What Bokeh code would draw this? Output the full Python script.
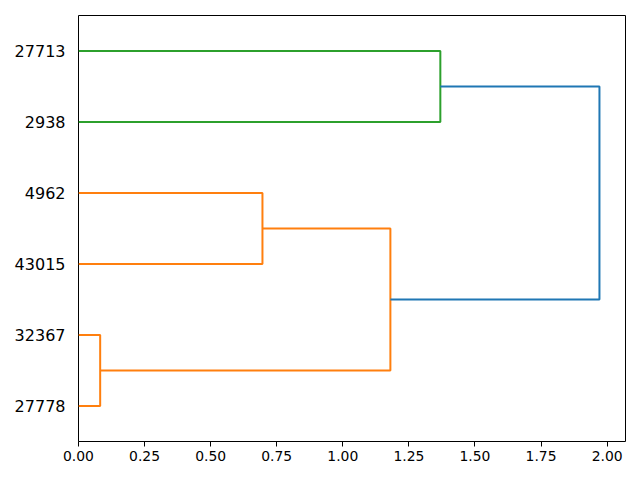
from bokeh.plotting import figure
from bokeh.models import FixedTicker, Range1d
from bokeh.embed import file_html
from bokeh.resources import INLINE

# leaf labels (bottom to top), positioned at 5, 15, 25, ...
leaf_labels = ["27778", "32367", "43015", "4962", "2938", "27713"]
leaf_pos = [5, 15, 25, 35, 45, 55]

# dendrogram link coordinates (scipy style): icoord = leaf axis, dcoord = distance
icoord = [
    [5, 5, 15, 15],
    [25, 25, 35, 35],
    [10, 10, 30, 30],
    [45, 45, 55, 55],
    [20, 20, 50, 50],
]
dcoord = [
    [0.0, 0.082, 0.082, 0.0],
    [0.0, 0.696, 0.696, 0.0],
    [0.082, 1.18, 1.18, 0.696],
    [0.0, 1.369, 1.369, 0.0],
    [1.18, 1.971, 1.971, 1.369],
]
link_colors = ["#ff7f0e", "#ff7f0e", "#ff7f0e", "#2ca02c", "#1f77b4"]

x_ticks = [0.0, 0.25, 0.5, 0.75, 1.0, 1.25, 1.5, 1.75, 2.0]

xmax = max(max(d) for d in dcoord) * 1.05

p = figure(width=632, height=472, output_backend="svg", toolbar_location=None,
           x_range=Range1d(0, xmax), y_range=Range1d(0, 60),
           min_border_left=78, min_border_right=7, min_border_top=15, min_border_bottom=31)

p.multi_line(xs=dcoord, ys=icoord, line_color=link_colors, line_width=2)

p.xgrid.visible = False
p.ygrid.visible = False
p.outline_line_color = "black"
p.outline_line_width = 1
p.outline_line_alpha = 1

p.xaxis.ticker = FixedTicker(ticks=x_ticks)
p.xaxis.major_label_overrides = {t: f"{t:.2f}" for t in x_ticks}
p.xaxis.major_label_text_font = "DejaVu Sans"
p.xaxis.major_label_text_font_size = "13.9px"
p.xaxis.major_label_text_color = "black"
p.xaxis.major_tick_out = 5
p.xaxis.major_tick_in = 0
p.xaxis.minor_tick_line_color = None
p.xaxis.axis_line_color = None
p.xaxis.major_tick_line_color = "black"
p.xaxis.major_label_standoff = 4

p.yaxis.ticker = FixedTicker(ticks=leaf_pos)
p.yaxis.major_label_overrides = {pos: lab for pos, lab in zip(leaf_pos, leaf_labels)}
p.yaxis.major_label_text_font = "DejaVu Sans"
p.yaxis.major_label_text_font_size = "16px"
p.yaxis.major_label_text_color = "black"
p.yaxis.major_tick_line_color = None
p.yaxis.minor_tick_line_color = None
p.yaxis.axis_line_color = None
p.yaxis.major_label_standoff = 7

open("out.html", "w").write(file_html(p, INLINE))
